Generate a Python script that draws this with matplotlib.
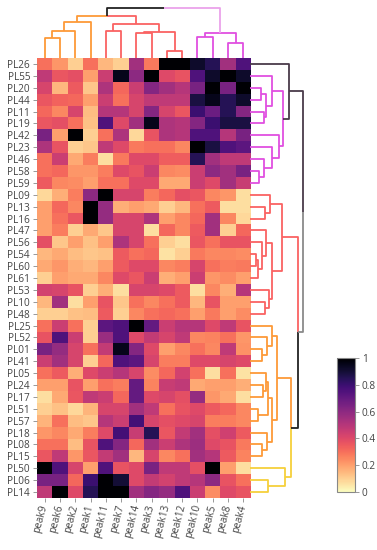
import numpy as np
import matplotlib
matplotlib.use("Agg")
import matplotlib.pyplot as plt

plt.rcParams['font.family'] = ['Open Sans', 'DejaVu Sans']

# ---------------------------------------------------------------
# data (rows / columns in the clustered display order)
# ---------------------------------------------------------------
row_labels = ["PL26", "PL55", "PL20", "PL44", "PL11", "PL19", "PL42", "PL23",
              "PL46", "PL58", "PL59", "PL09", "PL13", "PL16", "PL47", "PL56",
              "PL54", "PL60", "PL61", "PL53", "PL10", "PL48", "PL25", "PL52",
              "PL01", "PL41", "PL05", "PL24", "PL17", "PL51", "PL57", "PL18",
              "PL08", "PL15", "PL50", "PL06", "PL14"]
col_labels = ["peak9", "peak6", "peak2", "peak1", "peak11", "peak7", "peak14",
              "peak3", "peak13", "peak12", "peak10", "peak5", "peak8", "peak4"]

values = [
    [0.30, 0.22, 0.10, 0.30, 0.15, 0.10, 0.55, 0.28, 1.00, 1.00, 0.92, 0.85, 0.55, 0.75],
    [0.48, 0.36, 0.38, 0.20, 0.45, 0.95, 0.60, 1.00, 0.40, 0.37, 0.75, 0.92, 1.00, 0.92],
    [0.42, 0.15, 0.35, 0.12, 0.52, 0.32, 0.45, 0.62, 0.55, 0.50, 0.65, 1.00, 0.65, 1.00],
    [0.36, 0.33, 0.32, 0.20, 0.45, 0.30, 0.42, 0.48, 0.48, 0.48, 0.88, 0.95, 0.85, 0.92],
    [0.32, 0.25, 0.42, 0.14, 0.50, 0.50, 0.42, 0.62, 0.42, 0.36, 0.80, 0.68, 0.85, 0.62],
    [0.36, 0.38, 0.30, 0.13, 0.75, 0.40, 0.55, 0.95, 0.52, 0.50, 0.62, 0.80, 0.88, 0.88],
    [0.65, 0.20, 1.00, 0.10, 0.30, 0.52, 0.08, 0.37, 0.52, 0.50, 0.75, 0.75, 0.50, 0.65],
    [0.52, 0.37, 0.10, 0.12, 0.48, 0.40, 0.28, 0.30, 0.30, 0.25, 1.00, 0.88, 0.75, 0.72],
    [0.30, 0.45, 0.18, 0.27, 0.07, 0.28, 0.40, 0.40, 0.34, 0.34, 0.85, 0.55, 0.48, 0.48],
    [0.30, 0.32, 0.22, 0.22, 0.27, 0.40, 0.37, 0.45, 0.25, 0.24, 0.45, 0.60, 0.55, 0.65],
    [0.35, 0.25, 0.24, 0.20, 0.30, 0.30, 0.40, 0.40, 0.18, 0.18, 0.45, 0.40, 0.55, 0.46],
    [0.08, 0.17, 0.27, 0.60, 1.00, 0.42, 0.42, 0.27, 0.32, 0.38, 0.36, 0.25, 0.22, 0.07],
    [0.20, 0.32, 0.25, 1.00, 0.58, 0.17, 0.20, 0.18, 0.10, 0.15, 0.30, 0.35, 0.07, 0.07],
    [0.20, 0.30, 0.36, 1.00, 0.58, 0.42, 0.42, 0.52, 0.20, 0.25, 0.32, 0.55, 0.25, 0.08],
    [0.20, 0.27, 0.10, 0.18, 0.12, 0.42, 0.42, 0.07, 0.32, 0.25, 0.35, 0.55, 0.10, 0.32],
    [0.38, 0.12, 0.20, 0.13, 0.20, 0.52, 0.42, 0.30, 0.10, 0.07, 0.36, 0.30, 0.37, 0.37],
    [0.15, 0.18, 0.14, 0.12, 0.13, 0.35, 0.30, 0.32, 0.06, 0.10, 0.28, 0.25, 0.25, 0.24],
    [0.18, 0.22, 0.17, 0.15, 0.20, 0.35, 0.40, 0.40, 0.25, 0.27, 0.42, 0.30, 0.27, 0.28],
    [0.10, 0.20, 0.18, 0.18, 0.25, 0.40, 0.36, 0.45, 0.17, 0.20, 0.45, 0.22, 0.24, 0.20],
    [0.43, 0.42, 0.37, 0.10, 0.17, 0.07, 0.42, 0.42, 0.40, 0.35, 0.07, 0.25, 0.17, 0.50],
    [0.15, 0.55, 0.07, 0.20, 0.37, 0.12, 0.30, 0.25, 0.30, 0.35, 0.15, 0.37, 0.20, 0.20],
    [0.10, 0.10, 0.13, 0.14, 0.35, 0.10, 0.25, 0.30, 0.32, 0.30, 0.20, 0.28, 0.20, 0.24],
    [0.30, 0.45, 0.30, 0.10, 0.72, 0.75, 1.00, 0.70, 0.45, 0.50, 0.50, 0.40, 0.48, 0.37],
    [0.37, 0.75, 0.45, 0.10, 0.57, 0.75, 0.40, 0.47, 0.42, 0.48, 0.25, 0.26, 0.30, 0.22],
    [0.65, 0.58, 0.42, 0.30, 0.47, 0.95, 0.62, 0.40, 0.20, 0.25, 0.30, 0.25, 0.48, 0.23],
    [0.45, 0.55, 0.42, 0.10, 0.32, 0.75, 0.72, 0.42, 0.27, 0.27, 0.40, 0.40, 0.42, 0.40],
    [0.30, 0.35, 0.17, 0.40, 0.45, 0.50, 0.42, 0.24, 0.32, 0.43, 0.30, 0.07, 0.30, 0.06],
    [0.20, 0.20, 0.37, 0.20, 0.30, 0.27, 0.70, 0.26, 0.46, 0.48, 0.18, 0.20, 0.20, 0.17],
    [0.07, 0.18, 0.36, 0.48, 0.45, 0.32, 0.70, 0.40, 0.42, 0.38, 0.58, 0.22, 0.18, 0.07],
    [0.10, 0.13, 0.08, 0.16, 0.42, 0.42, 0.55, 0.48, 0.30, 0.37, 0.40, 0.35, 0.32, 0.25],
    [0.16, 0.30, 0.14, 0.12, 0.50, 0.45, 0.78, 0.42, 0.38, 0.40, 0.42, 0.27, 0.27, 0.25],
    [0.22, 0.25, 0.18, 0.27, 0.40, 0.78, 0.46, 0.85, 0.36, 0.47, 0.55, 0.38, 0.44, 0.35],
    [0.30, 0.30, 0.14, 0.37, 0.75, 0.62, 0.32, 0.55, 0.45, 0.52, 0.56, 0.40, 0.37, 0.28],
    [0.36, 0.48, 0.22, 0.36, 0.47, 0.55, 0.15, 0.42, 0.25, 0.30, 0.55, 0.50, 0.35, 0.26],
    [1.00, 0.75, 0.42, 0.20, 0.75, 0.37, 0.40, 0.65, 0.48, 0.48, 0.38, 1.00, 0.20, 0.07],
    [0.65, 0.65, 0.32, 0.80, 1.00, 0.90, 0.40, 0.47, 0.43, 0.48, 0.50, 0.60, 0.37, 0.30],
    [0.48, 1.00, 0.40, 0.85, 1.00, 1.00, 0.55, 0.62, 0.58, 0.75, 0.45, 0.24, 0.40, 0.37],
]

# linkage (child_a, child_b, distance); ids >= n_leaves are earlier merges
row_links = [
    (2, 3, 10.7), (4, 5, 14.3), (37, 38, 16.0), (1, 39, 22.3),
    (9, 10, 9.3), (8, 41, 14.3), (7, 42, 22.3), (6, 43, 29.3),
    (40, 44, 32.7), (0, 45, 39.3),
    (12, 13, 15.0), (11, 47, 20.0), (16, 17, 6.0), (18, 49, 8.0),
    (15, 50, 12.0), (14, 51, 15.7), (20, 21, 15.0), (19, 53, 19.0),
    (52, 54, 22.0), (48, 55, 32.0),
    (24, 25, 11.7), (23, 57, 16.7), (22, 58, 21.7),
    (27, 28, 13.0), (26, 60, 16.0), (29, 30, 8.0), (61, 62, 18.0),
    (32, 33, 12.0), (31, 64, 17.0), (63, 65, 22.0), (59, 66, 27.3),
    (35, 36, 17.7), (34, 68, 35.0), (67, 69, 41.0),
    (56, 70, 48.3), (46, 71, 53.3),
]
col_links = [
    (0, 1, 20.3), (14, 2, 27.3), (15, 3, 36.0),
    (4, 5, 27.0), (8, 9, 7.0), (6, 7, 24.7), (19, 18, 26.3), (17, 20, 34.0),
    (16, 21, 42.0),
    (10, 11, 20.7), (12, 13, 15.3), (23, 24, 24.7),
    (22, 25, 49.7),
]

# ---------------------------------------------------------------
# styles
# ---------------------------------------------------------------
OR, RD, MG, YE = "#fd9a38", "#fa6262", "#e04fe0", "#f6d03c"
DK, GR, BK, LM = "#4a3a4a", "#8a8a8a", "#222222", "#eaa2ea"
row_link_colors = [(MG, MG)] * 9 + [(DK, DK)] + [(RD, RD)] * 10 + [(OR, OR)] * 11 \
    + [(YE, YE)] * 2 + [(OR, YE), (RD, BK), (DK, GR)]
col_link_colors = [(OR, OR)] * 3 + [(RD, RD)] * 5 + [(OR, RD)] + [(MG, MG)] * 3 + [(BK, LM)]
TXT = "#444444"
LW = 1.3


def draw_dendro(ax, links, colors, n, vertical):
    pos = {i: i + 0.5 for i in range(n)}
    hgt = {i: 0.0 for i in range(n)}
    for k, ((a, b, h), (ca, cb)) in enumerate(zip(links, colors)):
        mid = (pos[a] + pos[b]) / 2
        for child, c in ((a, ca), (b, cb)):
            p, h0 = pos[child], hgt[child]
            xs, ys = [p, p, mid], [h0, h, h]
            if not vertical:
                xs, ys = ys, xs
            ax.plot(xs, ys, color=c, lw=LW, solid_capstyle="butt")
        pos[n + k] = mid
        hgt[n + k] = h


W, H = 377, 550
fig = plt.figure(figsize=(W / 100, H / 100), dpi=100)


def px_axes(x0, y0, x1, y1):
    return fig.add_axes([x0 / W, 1 - y1 / H, (x1 - x0) / W, (y1 - y0) / H])


data = np.array(values)
nr, nc = data.shape

ax_hm = px_axes(37, 58, 251, 498)
mesh = ax_hm.pcolormesh(np.arange(nc + 1), np.arange(nr + 1), data,
                        cmap="magma_r", vmin=0, vmax=1)
ax_hm.set_xlim(0, nc)
ax_hm.set_ylim(nr, 0)
ax_hm.set_xticks(np.arange(nc) + 0.5)
ax_hm.set_xticklabels(col_labels, rotation=75, ha="right", va="center",
                      rotation_mode="anchor")
ax_hm.set_yticks(np.arange(nr) + 0.5)
ax_hm.set_yticklabels(row_labels)
ax_hm.tick_params(axis="both", length=3, width=0.6, color="#888888",
                  labelcolor=TXT, labelsize=7.2, pad=2)
for s in ax_hm.spines.values():
    s.set_visible(False)

ax_top = px_axes(37, 0, 251, 58)
draw_dendro(ax_top, col_links, col_link_colors, nc, vertical=True)
ax_top.set_xlim(0, nc)
ax_top.set_ylim(0, 58)
ax_top.axis("off")

ax_right = px_axes(250, 58, 312, 498)
draw_dendro(ax_right, row_links, row_link_colors, nr, vertical=False)
ax_right.set_ylim(nr, 0)
ax_right.set_xlim(0, 62)
ax_right.axis("off")

cax = px_axes(337, 358, 355, 492)
cb = fig.colorbar(mesh, cax=cax, ticks=[0, 0.2, 0.4, 0.6, 0.8, 1])
cb.ax.set_yticklabels(["0", "0.2", "0.4", "0.6", "0.8", "1"])
cb.ax.tick_params(length=3, width=0.6, color="#888888", labelcolor=TXT,
                  labelsize=7.2, pad=2)
cb.outline.set_edgecolor("#888888")
cb.outline.set_linewidth(0.8)

fig.savefig("out.png", dpi=100)
